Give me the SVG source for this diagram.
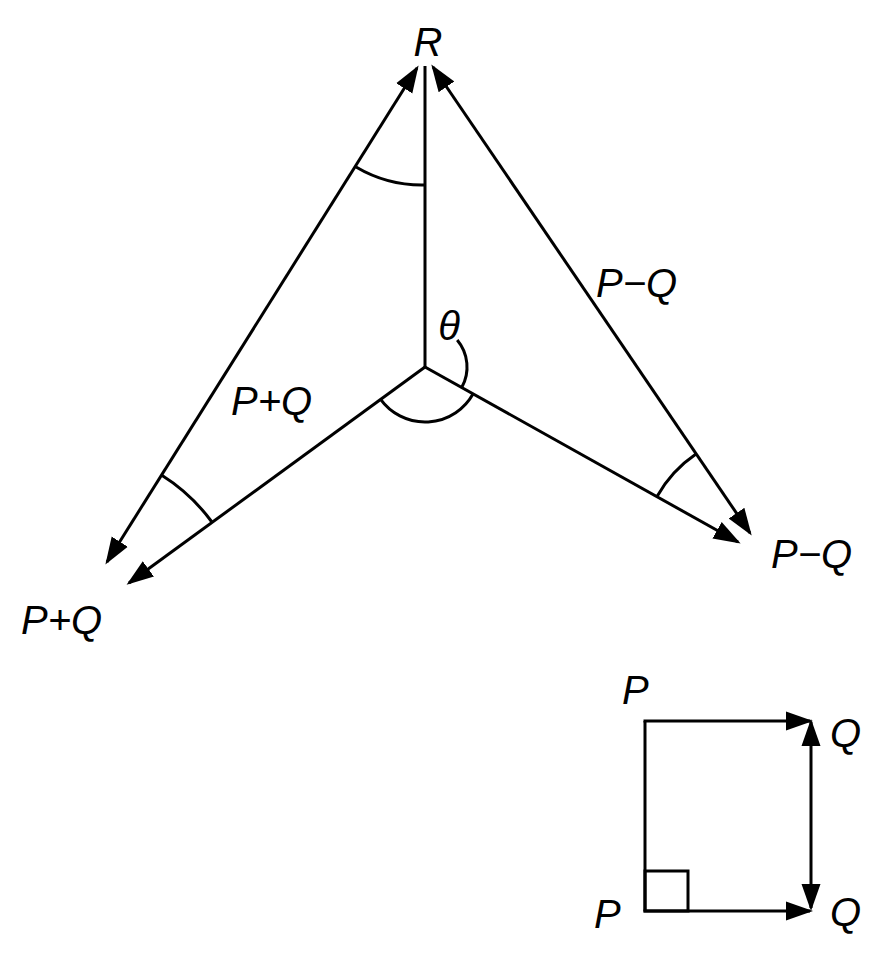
<svg xmlns="http://www.w3.org/2000/svg" width="888" height="960" viewBox="0 0 888 960">
<style>
.ln{stroke:#000;stroke-width:3;fill:none}
.arc{stroke:#000;stroke-width:3;fill:none}
.lb{font-family:"Liberation Sans",Arial,sans-serif;font-style:italic;font-size:40px;fill:#000}
</style>
<defs>
<marker id="ah" markerUnits="userSpaceOnUse" markerWidth="28" markerHeight="22" viewBox="0 0 28 22" refX="24" refY="11" orient="auto-start-reverse">
<path d="M0,1.5 L27,11 L0,20.5 z" fill="#000"/>
</marker>
</defs>
<rect width="888" height="960" fill="#fff"/>
<g id="connectors">
<line class="ln" x1="107" y1="562" x2="417" y2="68" marker-start="url(#ah)" marker-end="url(#ah)"/>
<line class="ln" x1="433" y1="67" x2="750" y2="533" marker-start="url(#ah)" marker-end="url(#ah)"/>
<line class="ln" x1="425" y1="367" x2="425" y2="66"/>
<line class="ln" x1="425" y1="367" x2="129" y2="583" marker-end="url(#ah)"/>
<line class="ln" x1="425" y1="367" x2="738" y2="542" marker-end="url(#ah)"/>
</g>
<g id="angles">
<path class="arc" d="M356,167 A130,130 0 0 0 425,185"/>
<path class="arc" d="M161.4,475 A183,183 0 0 1 211.9,522"/>
<path class="arc" d="M696,454 A126,126 0 0 0 657,496.5"/>
<path class="arc" d="M473,394 A55,55 0 0 1 380.6,399.4"/>
<path class="arc" d="M457.2,340 A42,42 0 0 1 461.7,387.5"/>
</g>
<g id="labels">
<text class="lb" x="428" y="56" text-anchor="middle">R</text>
<text class="lb" x="596" y="297">P−Q</text>
<text class="lb" x="231" y="415">P+Q</text>
<text class="lb" x="771" y="568">P−Q</text>
<text class="lb" x="21" y="634">P+Q</text>
<text class="lb" x="449" y="340" text-anchor="middle" font-size="38">θ</text>
</g>
<g id="small-diagram">
<line class="ln" x1="645" y1="721" x2="645" y2="911"/>
<line class="ln" x1="643.5" y1="721" x2="810" y2="721" marker-end="url(#ah)"/>
<line class="ln" x1="643.5" y1="911" x2="810" y2="911" marker-end="url(#ah)"/>
<line class="ln" x1="811" y1="722" x2="811" y2="908" marker-start="url(#ah)" marker-end="url(#ah)"/>
<rect class="ln" x="645" y="871" width="43" height="40"/>
<text class="lb" x="622" y="704">P</text>
<text class="lb" x="830" y="747">Q</text>
<text class="lb" x="594" y="928">P</text>
<text class="lb" x="830" y="926">Q</text>
</g>
</svg>
